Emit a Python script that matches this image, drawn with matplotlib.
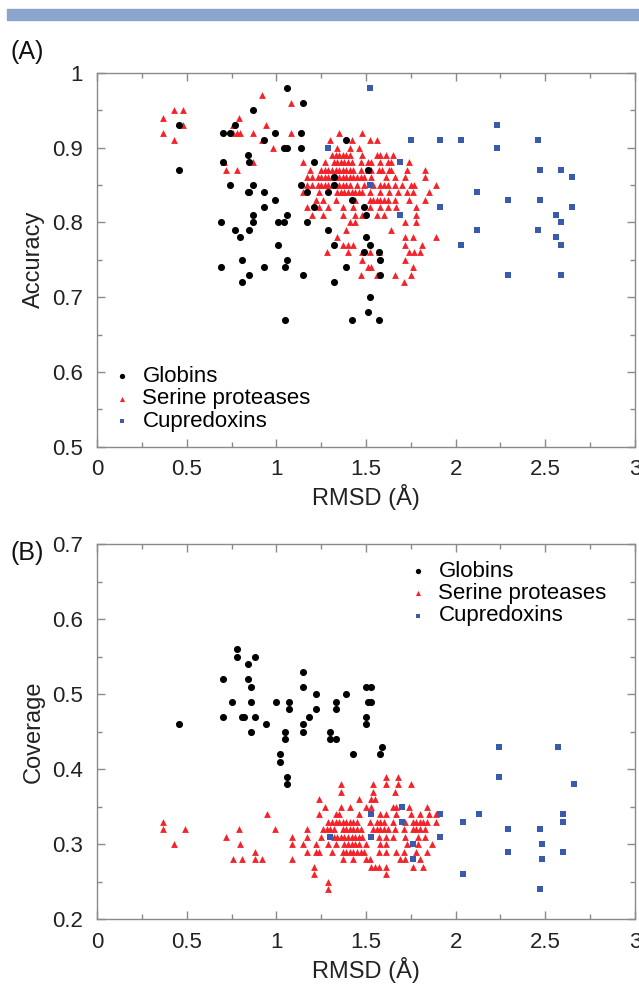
import matplotlib
matplotlib.use("Agg")
import matplotlib.pyplot as plt
from matplotlib.ticker import MultipleLocator
import matplotlib.patches as mpatches

plt.rcParams['font.family'] = ['Liberation Sans', 'DejaVu Sans']

# ---------------- Panel A: Accuracy vs RMSD ----------------
globins_a_x = [0.46, 0.46, 1.06, 1.15, 0.87, 0.70, 0.74, 0.77, 0.99, 1.14, 0.93, 1.04, 1.06, 1.14, 1.39,
               0.84, 0.70, 0.85, 1.21, 0.74, 0.87, 1.14, 1.32, 1.32, 0.84, 0.85, 0.93, 1.17, 1.29, 0.99,
               1.42, 1.21, 0.93, 0.87, 1.06, 1.49, 1.50, 0.69, 0.87, 1.01, 1.04, 1.17, 0.77, 0.85, 1.29,
               0.80, 1.50, 1.01, 1.32, 1.52, 1.49, 1.57, 0.81, 1.06, 1.58, 0.69, 0.93, 1.05, 1.39, 0.85,
               1.15, 1.58, 0.81, 1.32, 1.52, 1.51, 1.05, 1.42, 1.57, 1.51]
globins_a_y = [0.93, 0.87, 0.98, 0.96, 0.95, 0.92, 0.92, 0.93, 0.92, 0.92, 0.91, 0.90, 0.90, 0.90, 0.91,
               0.89, 0.88, 0.88, 0.88, 0.85, 0.85, 0.85, 0.86, 0.85, 0.84, 0.84, 0.84, 0.84, 0.84, 0.83,
               0.83, 0.82, 0.82, 0.81, 0.81, 0.82, 0.81, 0.80, 0.80, 0.80, 0.80, 0.80, 0.79, 0.79, 0.79,
               0.78, 0.78, 0.77, 0.77, 0.77, 0.76, 0.76, 0.75, 0.75, 0.75, 0.74, 0.74, 0.74, 0.74, 0.73,
               0.73, 0.73, 0.72, 0.72, 0.70, 0.68, 0.67, 0.67, 0.67, 0.87]

cupre_a_x = [1.52, 2.23, 1.75, 1.91, 2.03, 2.46, 2.23, 1.69, 2.47, 2.59, 2.65, 1.52, 2.12, 2.29,
             2.47, 1.91, 2.65, 1.69, 2.56, 2.59, 2.12, 2.46, 2.56, 2.03, 2.59, 2.29, 2.59, 1.29]
cupre_a_y = [0.98, 0.93, 0.91, 0.91, 0.91, 0.91, 0.90, 0.88, 0.87, 0.87, 0.86, 0.85, 0.84, 0.83,
             0.83, 0.82, 0.82, 0.81, 0.81, 0.80, 0.79, 0.79, 0.78, 0.77, 0.77, 0.73, 0.73, 0.90]

# serine proteases, panel A, read row by row (accuracy level -> RMSD values)
serine_a_levels = [0.97, 0.96, 0.95, 0.94, 0.93, 0.92, 0.91, 0.90, 0.89, 0.88, 0.87, 0.86, 0.85,
                   0.84, 0.83, 0.82, 0.81, 0.80, 0.79, 0.78, 0.77, 0.76, 0.75, 0.74, 0.73, 0.72]
serine_a_rmsd = [
    [0.92],
    [1.08],
    [0.43, 0.48],
    [0.37, 0.79],
    [0.48, 0.76, 0.94],
    [0.37, 0.76, 0.78, 0.80, 0.87, 1.08, 1.35, 1.48],
    [0.43, 0.92, 1.30, 1.42, 1.52, 1.56],
    [0.98, 1.34, 1.41, 1.46],
    [1.31, 1.33, 1.35, 1.37, 1.39, 1.41, 1.48, 1.56, 1.58, 1.61, 1.65],
    [0.71, 0.87, 1.15, 1.27, 1.32, 1.34, 1.36, 1.38, 1.40, 1.42, 1.47, 1.51, 1.53, 1.58, 1.62, 1.64, 1.74],
    [0.72, 0.78, 1.19, 1.25, 1.27, 1.29, 1.31, 1.33, 1.35, 1.37, 1.39, 1.41, 1.43, 1.47, 1.51, 1.53,
     1.57, 1.59, 1.63, 1.64, 1.73, 1.83],
    [1.17, 1.20, 1.23, 1.25, 1.27, 1.29, 1.31, 1.33, 1.35, 1.37, 1.39, 1.41, 1.43, 1.45, 1.47, 1.49,
     1.53, 1.61, 1.66, 1.72, 1.83],
    [1.17, 1.20, 1.23, 1.25, 1.27, 1.29, 1.31, 1.33, 1.35, 1.37, 1.39, 1.41, 1.45, 1.49, 1.54, 1.58,
     1.60, 1.62, 1.66, 1.70, 1.75, 1.77, 1.89],
    [1.15, 1.24, 1.34, 1.36, 1.38, 1.40, 1.42, 1.44, 1.46, 1.48, 1.52, 1.58, 1.63, 1.68, 1.73, 1.76, 1.85],
    [1.22, 1.26, 1.33, 1.44, 1.52, 1.54, 1.56, 1.58, 1.60, 1.62, 1.66, 1.74, 1.83],
    [1.17, 1.24, 1.29, 1.37, 1.43, 1.52, 1.58, 1.62, 1.67, 1.78],
    [1.20, 1.26, 1.37, 1.44, 1.48, 1.56, 1.60, 1.78],
    [1.41, 1.44, 1.72, 1.78],
    [1.39, 1.64],
    [1.34, 1.72, 1.76, 1.89],
    [1.37, 1.40, 1.43, 1.72, 1.81],
    [1.28, 1.40, 1.48, 1.52, 1.57, 1.74, 1.77, 1.80],
    [1.48, 1.72],
    [1.51, 1.53, 1.76],
    [1.47, 1.56, 1.66, 1.75],
    [1.71],
]

# ---------------- Panel B: Coverage vs RMSD ----------------
globins_b_x = [0.46, 0.78, 0.78, 0.88, 0.84, 0.70, 0.84, 0.86, 0.75, 0.86, 0.70, 0.81, 0.82, 0.88,
               0.94, 0.86, 1.00, 1.07, 1.07, 1.05, 1.05, 1.02, 1.02, 1.06, 1.06, 1.15, 1.15, 1.22,
               1.22, 1.18, 1.15, 1.15, 1.33, 1.33, 1.39, 1.30, 1.30, 1.33, 1.43, 1.50, 1.53, 1.51,
               1.53, 1.50, 1.50, 1.58, 1.59]
globins_b_y = [0.46, 0.56, 0.55, 0.55, 0.54, 0.52, 0.52, 0.51, 0.49, 0.49, 0.47, 0.47, 0.47, 0.47,
               0.46, 0.45, 0.49, 0.49, 0.48, 0.45, 0.44, 0.42, 0.41, 0.39, 0.38, 0.53, 0.51, 0.50,
               0.48, 0.47, 0.46, 0.45, 0.49, 0.48, 0.50, 0.45, 0.44, 0.44, 0.42, 0.51, 0.51, 0.49,
               0.49, 0.47, 0.46, 0.42, 0.43]

cupre_b_x = [2.24, 2.57, 2.24, 2.66, 1.70, 1.53, 1.91, 2.13, 2.60, 1.70, 2.04, 2.60, 2.29, 2.47,
             1.53, 1.91, 1.76, 2.48, 2.29, 2.60, 1.76, 2.48, 2.04, 2.47, 1.30]
cupre_b_y = [0.43, 0.43, 0.39, 0.38, 0.35, 0.34, 0.34, 0.34, 0.34, 0.33, 0.33, 0.33, 0.32, 0.32,
             0.31, 0.31, 0.30, 0.30, 0.29, 0.29, 0.28, 0.28, 0.26, 0.24, 0.31]

serine_b_levels = [0.39, 0.38, 0.37, 0.36, 0.35, 0.34, 0.33, 0.32, 0.31, 0.30, 0.29, 0.28,
                   0.27, 0.26, 0.25, 0.24]
serine_b_rmsd = [
    [1.61, 1.68],
    [1.36, 1.54, 1.61, 1.68, 1.75],
    [1.36, 1.54, 1.66],
    [1.24, 1.46, 1.53, 1.55],
    [1.27, 1.36, 1.41, 1.50, 1.53, 1.65, 1.67, 1.74, 1.84],
    [0.95, 1.24, 1.33, 1.35, 1.46, 1.58, 1.61, 1.67, 1.75, 1.80, 1.85, 1.89],
    [0.37, 1.29, 1.31, 1.33, 1.35, 1.37, 1.39, 1.41, 1.43, 1.45, 1.52, 1.56, 1.58, 1.60, 1.65,
     1.72, 1.76, 1.78, 1.80, 1.82, 1.84, 1.89],
    [0.37, 0.49, 0.79, 0.99, 1.17, 1.26, 1.28, 1.30, 1.32, 1.37, 1.39, 1.41, 1.43, 1.45, 1.47,
     1.54, 1.56, 1.58, 1.60, 1.62, 1.66, 1.71, 1.76, 1.78, 1.80, 1.83],
    [0.72, 1.09, 1.17, 1.25, 1.32, 1.34, 1.36, 1.38, 1.40, 1.42, 1.44, 1.46, 1.48, 1.57, 1.61,
     1.65, 1.72, 1.79, 1.83],
    [0.43, 0.80, 1.09, 1.15, 1.22, 1.29, 1.33, 1.38, 1.40, 1.42, 1.44, 1.46, 1.50, 1.58, 1.61,
     1.73, 1.79, 1.87],
    [0.88, 1.17, 1.22, 1.24, 1.31, 1.37, 1.39, 1.41, 1.43, 1.45, 1.47, 1.49, 1.57, 1.61, 1.67,
     1.71, 1.78, 1.84],
    [0.76, 0.81, 0.88, 0.92, 1.09, 1.37, 1.43, 1.50, 1.52, 1.69, 1.72, 1.80],
    [1.21, 1.53, 1.55, 1.57, 1.61, 1.76, 1.82],
    [1.21, 1.61],
    [1.29],
    [1.29],
]

series_names = ["Globins", "Serine proteases", "Cupredoxins"]
x_ticks = [0, 0.5, 1, 1.5, 2, 2.5, 3]
x_tick_labels = ["0", "0.5", "1", "1.5", "2", "2.5", "3"]
a_ticks = [0.5, 0.6, 0.7, 0.8, 0.9, 1.0]
a_tick_labels = ["0.5", "0.6", "0.7", "0.8", "0.9", "1"]
b_ticks = [0.2, 0.3, 0.4, 0.5, 0.6, 0.7]
b_tick_labels = ["0.2", "0.3", "0.4", "0.5", "0.6", "0.7"]

RED = "#f5222a"
BLUE = "#3a5bab"
GRAY = "#8a8a8a"


def flatten(levels, rows):
    xs, ys = [], []
    for lv, row in zip(levels, rows):
        for v in row:
            xs.append(v)
            ys.append(lv)
    return xs, ys


fig = plt.figure(figsize=(6.39, 9.86), dpi=100)

# decorative band at top
fig.patches.append(mpatches.Rectangle((7 / 639, 1 - 20 / 986), 1.0, 11 / 986,
                                      transform=fig.transFigure, color="#8ca5cc", zorder=0))

axA = fig.add_axes([97 / 639, 1 - 446.7 / 986, 538 / 639, 374 / 986])
axB = fig.add_axes([97 / 639, 1 - 919.3 / 986, 538 / 639, 375 / 986])


def style(ax, yticks, ylabels, ylim):
    ax.set_xlim(0, 3)
    ax.set_ylim(*ylim)
    ax.set_xticks(x_ticks)
    ax.set_xticklabels(x_tick_labels)
    ax.set_yticks(yticks)
    ax.set_yticklabels(ylabels)
    ax.xaxis.set_minor_locator(MultipleLocator(0.25))
    ax.yaxis.set_minor_locator(MultipleLocator(0.05))
    ax.tick_params(which="both", direction="in", top=True, right=True, colors=GRAY,
                   labelcolor="#222222", labelsize=16)
    ax.tick_params(which="major", length=6, width=1.0, pad=9)
    ax.tick_params(which="minor", length=3.5, width=1.0)
    ax.tick_params(axis="y", which="major", pad=10)
    for s in ax.spines.values():
        s.set_color(GRAY)
        s.set_linewidth(1.0)
    ax.set_xlabel("RMSD (Å)", fontsize=17, color="#222222", labelpad=3)


S_TRI, S_CIR, S_SQ = 24, 26, 16

sx, sy = flatten(serine_a_levels, serine_a_rmsd)
axA.scatter(sx, sy, marker="^", s=S_TRI, color=RED, linewidths=0, label=series_names[1], zorder=2)
axA.scatter(globins_a_x, globins_a_y, marker="o", s=S_CIR, color="black", linewidths=0,
            label=series_names[0], zorder=3)
axA.scatter(cupre_a_x, cupre_a_y, marker="s", s=S_SQ, color=BLUE, linewidths=0,
            label=series_names[2], zorder=4)
style(axA, a_ticks, a_tick_labels, (0.5, 1.0))
axA.set_ylabel("Accuracy", fontsize=17, color="#222222")
axA.yaxis.set_label_coords(-0.097, 0.5)

h, l = axA.get_legend_handles_labels()
order = [1, 0, 2]
axA.legend([h[i] for i in order], [l[i] for i in order], loc="upper left",
           bbox_to_anchor=(0.035, 0.215), frameon=False, fontsize=16, borderpad=0,
           handlelength=0.6, handletextpad=0.6, labelspacing=0.05, markerscale=0.75,
           borderaxespad=0)

sx, sy = flatten(serine_b_levels, serine_b_rmsd)
axB.scatter(sx, sy, marker="^", s=S_TRI, color=RED, linewidths=0, label=series_names[1], zorder=2)
axB.scatter(globins_b_x, globins_b_y, marker="o", s=S_CIR, color="black", linewidths=0,
            label=series_names[0], zorder=3)
axB.scatter(cupre_b_x, cupre_b_y, marker="s", s=S_SQ, color=BLUE, linewidths=0,
            label=series_names[2], zorder=4)
style(axB, b_ticks, b_tick_labels, (0.2, 0.7))
axB.set_ylabel("Coverage", fontsize=17, color="#222222")
axB.yaxis.set_label_coords(-0.097, 0.5)
h, l = axB.get_legend_handles_labels()
axB.legend([h[i] for i in order], [l[i] for i in order], loc="upper left",
           bbox_to_anchor=(0.585, 0.955), frameon=False, fontsize=16, borderpad=0,
           handlelength=0.6, handletextpad=0.6, labelspacing=0.05, markerscale=0.75,
           borderaxespad=0)

fig.text(10 / 639, 1 - 52 / 986, "(A)", fontsize=18, va="center", ha="left", color="#111111")
fig.text(10 / 639, 1 - 553 / 986, "(B)", fontsize=18, va="center", ha="left", color="#111111")

fig.savefig("out.png", dpi=100)
